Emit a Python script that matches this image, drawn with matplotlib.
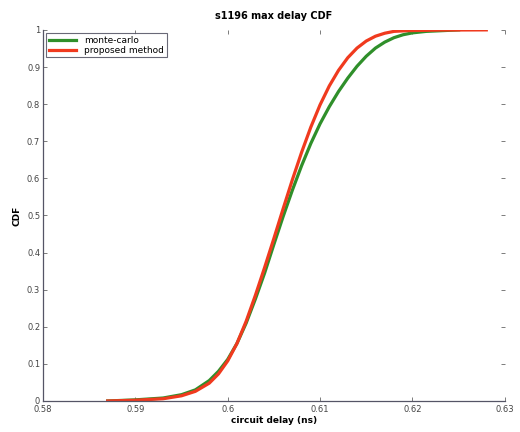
import matplotlib
matplotlib.use("Agg")
import matplotlib.pyplot as plt

# Empirical CDF of the maximum circuit delay (ns)
mc_delay = [0.5870, 0.5900, 0.5930, 0.5950, 0.5965, 0.5980, 0.5990, 0.6000, 0.6010,
            0.6020, 0.6030, 0.6040, 0.6050, 0.6060, 0.6070, 0.6080, 0.6090, 0.6100,
            0.6110, 0.6120, 0.6130, 0.6140, 0.6150, 0.6160, 0.6170, 0.6180, 0.6190,
            0.6200, 0.6215, 0.6250]
mc_cdf = [0.000, 0.003, 0.008, 0.017, 0.030, 0.055, 0.080, 0.112, 0.155,
          0.210, 0.275, 0.345, 0.422, 0.497, 0.568, 0.634, 0.694, 0.747,
          0.793, 0.834, 0.870, 0.902, 0.929, 0.951, 0.967, 0.979, 0.987,
          0.992, 0.996, 1.000]

pm_delay = [0.5870, 0.5900, 0.5930, 0.5950, 0.5965, 0.5980, 0.5990, 0.6000, 0.6010,
            0.6020, 0.6030, 0.6040, 0.6050, 0.6060, 0.6070, 0.6080, 0.6090, 0.6100,
            0.6110, 0.6120, 0.6130, 0.6140, 0.6150, 0.6160, 0.6170, 0.6180, 0.6195,
            0.6230, 0.6280]
pm_cdf = [0.000, 0.002, 0.006, 0.014, 0.026, 0.048, 0.073, 0.108, 0.155,
          0.215, 0.285, 0.360, 0.438, 0.518, 0.596, 0.670, 0.738, 0.798,
          0.849, 0.891, 0.925, 0.951, 0.970, 0.983, 0.991, 0.996, 0.998,
          0.9995, 1.000]

x_ticks = [0.58, 0.59, 0.60, 0.61, 0.62, 0.63]
x_labels = ["0.58", "0.59", "0.6", "0.61", "0.62", "0.63"]
y_ticks = [0, 0.1, 0.2, 0.3, 0.4, 0.5, 0.6, 0.7, 0.8, 0.9, 1]
y_labels = ["0", "0.1", "0.2", "0.3", "0.4", "0.5", "0.6", "0.7", "0.8", "0.9", "1"]

fig = plt.figure(figsize=(5.2, 4.32), dpi=100)
ax = fig.add_axes([0.0827, 0.0718, 0.888, 0.859])

ax.plot(mc_delay, mc_cdf, color="#2f8f2a", lw=2.3, label="monte-carlo",
        solid_joinstyle="round")
ax.plot(pm_delay, pm_cdf, color="#f03a1e", lw=2.3, label="proposed method",
        solid_joinstyle="round")

ax.set_xlim(0.58, 0.63)
ax.set_ylim(0, 1)
ax.set_xticks(x_ticks)
ax.set_xticklabels(x_labels)
ax.set_yticks(y_ticks)
ax.set_yticklabels(y_labels)

for side in ("top", "right"):
    ax.spines[side].set_visible(False)
for side in ("left", "bottom"):
    ax.spines[side].set_color("#555566")
    ax.spines[side].set_linewidth(0.9)

ax.tick_params(direction="in", length=3, width=0.6, colors="#666666",
               labelsize=6, labelcolor="#444444")
ax.tick_params(axis="x", pad=3)
ax.tick_params(axis="y", pad=2)
ax.tick_params(which="both", right=True, top=True)
for t in ax.yaxis.get_ticklines()[1::2] + ax.xaxis.get_ticklines()[1::2]:
    t.set_color("#cccccc")

ax.set_title("s1196 max delay CDF", fontsize=7, fontweight="bold", pad=8)
ax.set_xlabel("circuit delay (ns)", fontsize=6.5, fontweight="bold", labelpad=1)
ax.set_ylabel("CDF", fontsize=6.5, fontweight="bold", labelpad=4)

leg = ax.legend(loc="upper left", fontsize=6.5, frameon=True, fancybox=False,
                borderpad=0.3, handlelength=3.0, labelspacing=0.1,
                borderaxespad=0.35, handletextpad=0.9)
leg.get_frame().set_edgecolor("#444455")
leg.get_frame().set_linewidth(0.8)

fig.savefig("out.png", dpi=100)
